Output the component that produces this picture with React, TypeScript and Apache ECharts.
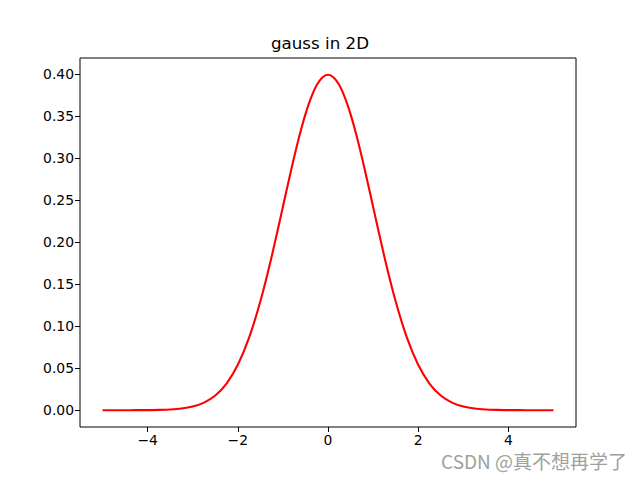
import React, { useEffect, useRef } from "react";
import * as echarts from "echarts";

const xValues = [
  -5, -4.75, -4.5, -4.25, -4, -3.75, -3.5, -3.25, -3, -2.75, -2.5, -2.25, -2, -1.75, -1.5, -1.25, -1, -0.875, -0.75,
  -0.625, -0.5, -0.375, -0.25, -0.125, 0, 0.125, 0.25, 0.375, 0.5, 0.625, 0.75, 0.875, 1, 1.25, 1.5, 1.75, 2, 2.25, 2.5,
  2.75, 3, 3.25, 3.5, 3.75, 4, 4.25, 4.5, 4.75, 5,
];
const yValues = [
  0.0, 0.0, 0.0, 0.0001, 0.0001, 0.0004, 0.0009, 0.002, 0.0044, 0.0091, 0.0175, 0.0317, 0.054, 0.0863, 0.1295, 0.1826,
  0.242, 0.2721, 0.3011, 0.3281, 0.3521, 0.3718, 0.3867, 0.3958, 0.3989, 0.3958, 0.3867, 0.3718, 0.3521, 0.3281, 0.3011,
  0.2721, 0.242, 0.1826, 0.1295, 0.0863, 0.054, 0.0317, 0.0175, 0.0091, 0.0044, 0.002, 0.0009, 0.0004, 0.0001, 0.0001,
  0.0, 0.0, 0.0,
];
const xTicks = [-4, -2, 0, 2, 4];
const yTicks = [0, 0.05, 0.1, 0.15, 0.2, 0.25, 0.3, 0.35, 0.4];
const titleText = "gauss in 2D";
const watermark = "CSDN @真不想再学了";

export default function App() {
  const ref = useRef<HTMLDivElement>(null);
  useEffect(() => {
    if (!ref.current) return;
    const chart = echarts.init(ref.current, undefined, { renderer: "svg" });
    const font = "DejaVu Sans";
    chart.setOption({
      animation: false,
      backgroundColor: "#fff",
      textStyle: { fontFamily: font },
      title: {
        text: titleText,
        left: "center",
        top: 34,
        textStyle: { fontFamily: font, fontSize: 16.7, fontWeight: "normal", color: "#000" },
        padding: 0,
      },
      grid: {
        left: 80,
        right: 64,
        top: 58,
        bottom: 53,
        show: true,
        borderColor: "#000",
        borderWidth: 1,
        containLabel: false,
      },
      xAxis: {
        type: "value",
        min: -5.5,
        max: 5.5,
        splitLine: { show: false },
        axisLine: { show: false, onZero: false },
        axisTick: {
          show: true,
          inside: false,
          length: 5,
          lineStyle: { color: "#000", width: 1 },
          customValues: xTicks,
        },
        axisLabel: {
          show: true,
          color: "#000",
          fontSize: 13.9,
          fontFamily: font,
          margin: 6,
          customValues: xTicks,
          formatter: (v: number) => (v < 0 ? "\u2212" + Math.abs(v) : String(v)),
        },
      },
      yAxis: {
        type: "value",
        min: -0.01995,
        max: 0.41889,
        splitLine: { show: false },
        axisLine: { show: false, onZero: false },
        axisTick: {
          show: true,
          inside: false,
          length: 5,
          lineStyle: { color: "#000", width: 1 },
          customValues: yTicks,
        },
        axisLabel: {
          show: true,
          color: "#000",
          fontSize: 13.9,
          fontFamily: font,
          margin: 6,
          customValues: yTicks,
          formatter: (v: number) => v.toFixed(2),
        },
      },
      series: [
        {
          type: "line",
          data: xValues.map((x, i) => [x, yValues[i]]),
          smooth: 0.25,
          showSymbol: false,
          lineStyle: { color: "#ff0000", width: 2.1, join: "round" },
          itemStyle: { color: "#ff0000" },
        },
      ],
      graphic: [
        {
          type: "text",
          right: 13,
          top: 451,
          style: {
            text: watermark,
            fontFamily: "Noto Sans CJK SC",
            fontSize: 19,
            fill: "#a0a0a0",
          },
        },
      ],
    });
    return () => chart.dispose();
  }, []);
  return <div ref={ref} style={{ position: "fixed", left: 0, top: 0, width: 640, height: 480 }} />;
}
